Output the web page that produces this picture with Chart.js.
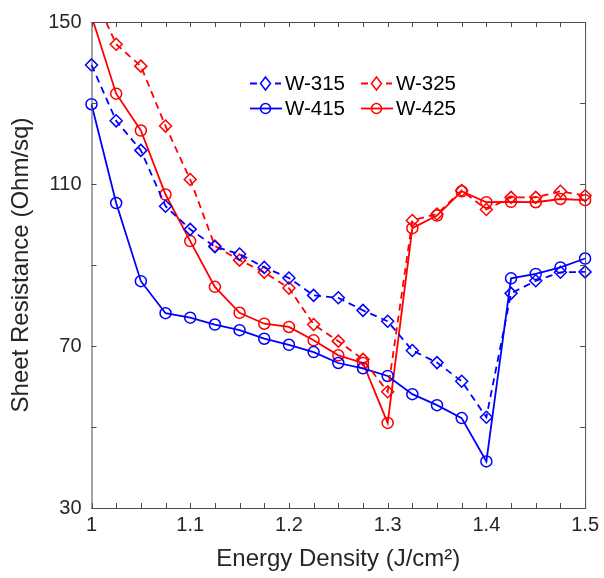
<!DOCTYPE html>
<html>
<head>
<meta charset="utf-8">
<script src="https://cdn.jsdelivr.net/npm/chart.js@4"></script>
<style>
html,body{margin:0;padding:0;background:#fff;}
#wrap{width:604px;height:578px;}
</style>
</head>
<body>
<div id="wrap"><canvas id="c" width="604" height="578"></canvas></div>
<script>
const energy = [1.000,1.025,1.050,1.075,1.100,1.125,1.150,1.175,1.200,1.225,1.250,1.275,1.300,1.325,1.350,1.375,1.400,1.425,1.450,1.475,1.500];
const w315 = [139.4,125.6,118.3,104.5,98.8,94.5,92.7,89.4,86.8,82.5,81.9,78.8,76.1,68.9,65.9,61.3,52.4,83.0,86.1,88.2,88.3];
const w415 = [129.7,105.3,86.0,78.1,77.0,75.3,73.9,71.8,70.3,68.5,65.8,64.5,62.6,58.1,55.4,52.2,41.5,86.7,87.8,89.4,91.6];
const w325 = [158.0,144.5,139.1,124.3,111.1,94.7,91.2,88.2,84.3,75.3,71.2,66.7,58.7,101.0,102.6,108.4,103.7,106.7,106.7,108.2,107.1];
const w425 = [151.5,132.3,123.2,107.4,95.9,84.6,78.2,75.5,74.7,71.4,67.7,65.8,51.0,99.1,102.2,108.2,105.5,105.6,105.5,106.3,106.0];
const seriesNames = ['W-315','W-325','W-415','W-425'];
const xTicks = [1,1.1,1.2,1.3,1.4,1.5];
const yTicks = [30,70,110,150];
const xMinorStep = 0.025;
const yMinorStep = 20;

const BLUE = '#0000ff', RED = '#ff0000';
const FONT = "'Liberation Sans', Arial, sans-serif";
const pts = arr => arr.map((v,i)=>({x: energy[i], y: v}));
const clipBox = {left: 12, top: 0, right: 12, bottom: 12};

function ds(label, data, color, dashed, style){
  return {
    label, data: pts(data),
    borderColor: color, backgroundColor: 'rgba(0,0,0,0)',
    borderWidth: 1.8,
    borderDash: dashed ? [7,5] : [],
    pointStyle: style,
    pointRadius: style === 'rectRot' ? 6 : 5.5,
    pointBorderWidth: 1.5,
    pointBorderColor: color,
    pointBackgroundColor: 'rgba(0,0,0,0)',
    tension: 0, clip: clipBox
  };
}

const boxPlugin = {
  id: 'boxPlugin',
  afterDatasetsDraw(chart){
    const {ctx, chartArea:a, scales:{x, y}} = chart;
    ctx.save();
    ctx.strokeStyle = '#4d4d4d';
    ctx.lineWidth = 1;
    ctx.setLineDash([]);
    ctx.strokeRect(a.left+0.5, a.top+0.5, a.right-a.left, a.bottom-a.top);
    const L = 5;
    ctx.beginPath();
    for (let v = 1; v <= 1.5001; v += xMinorStep){
      const px = Math.round(x.getPixelForValue(v))+0.5;
      ctx.moveTo(px, a.bottom); ctx.lineTo(px, a.bottom-L);
      ctx.moveTo(px, a.top); ctx.lineTo(px, a.top+L);
    }
    for (let v = 30; v <= 150.001; v += yMinorStep){
      const py = Math.round(y.getPixelForValue(v))+0.5;
      ctx.moveTo(a.left, py); ctx.lineTo(a.left+L, py);
      ctx.moveTo(a.right, py); ctx.lineTo(a.right-L, py);
    }
    ctx.stroke();

    // legend
    const rows = [
      {y: 83.5, items: [{name: seriesNames[0], color: BLUE, dashed: true, style: 'd', x: 250},
                      {name: seriesNames[1], color: RED, dashed: true, style: 'd', x: 361}]},
      {y: 108.5, items: [{name: seriesNames[2], color: BLUE, dashed: false, style: 'c', x: 250},
                       {name: seriesNames[3], color: RED, dashed: false, style: 'c', x: 361}]}
    ];
    ctx.font = "20.5px " + FONT;
    ctx.textBaseline = 'middle';
    ctx.textAlign = 'left';
    rows.forEach(r => {
      r.items.forEach(it => {
        ctx.strokeStyle = it.color;
        ctx.lineWidth = 1.8;
        ctx.beginPath();
        if (it.dashed){
          ctx.moveTo(it.x, r.y); ctx.lineTo(it.x+7, r.y);
          ctx.moveTo(it.x+25, r.y); ctx.lineTo(it.x+31, r.y);
        } else {
          ctx.moveTo(it.x, r.y); ctx.lineTo(it.x+32, r.y);
        }
        ctx.stroke();
        ctx.lineWidth = 1.5;
        ctx.beginPath();
        const cx = it.x+15.5;
        if (it.style === 'd'){
          ctx.moveTo(cx, r.y-6.5); ctx.lineTo(cx+5, r.y); ctx.lineTo(cx, r.y+6.5); ctx.lineTo(cx-5, r.y); ctx.closePath();
        } else {
          ctx.arc(cx, r.y, 5, 0, Math.PI*2);
        }
        ctx.stroke();
        ctx.fillStyle = '#000';
        ctx.fillText(it.name, it.x+35, r.y+1);
      });
    });
    ctx.restore();
  }
};

new Chart(document.getElementById('c'), {
  type: 'line',
  data: {
    datasets: [
      ds(seriesNames[0], w315, BLUE, true, 'rectRot'),
      ds(seriesNames[1], w325, RED, true, 'rectRot'),
      ds(seriesNames[2], w415, BLUE, false, 'circle'),
      ds(seriesNames[3], w425, RED, false, 'circle')
    ]
  },
  options: {
    responsive: false,
    animation: false,
    devicePixelRatio: 1,
    layout: {padding: {left: 0, top: 20, right: 15, bottom: 0}},
    plugins: {legend: {display: false}, tooltip: {enabled: false}},
    scales: {
      x: {
        type: 'linear', min: 1, max: 1.5,
        afterBuildTicks: s => { s.ticks = xTicks.map(v => ({value: v})); },
        afterFit: s => { s.height = 70; },
        grid: {display: false, drawTicks: false},
        border: {display: false},
        ticks: {
          padding: 5, color: '#262626', maxRotation: 0,
          font: {family: FONT, size: 20},
          callback: v => String(+Number(v).toFixed(2))
        },
        title: {display: true, text: 'Energy Density (J/cm²)', color: '#262626',
                font: {family: FONT, size: 24}, padding: {top: 0, bottom: 4}}
      },
      y: {
        type: 'linear', min: 30, max: 150,
        afterBuildTicks: s => { s.ticks = yTicks.map(v => ({value: v})); },
        afterFit: s => { s.width = 91.5; },
        grid: {display: false, drawTicks: false},
        border: {display: false},
        ticks: {padding: 10, color: '#262626', font: {family: FONT, size: 20}},
        title: {display: true, text: 'Sheet Resistance (Ohm/sq)', color: '#262626',
                font: {family: FONT, size: 24}, padding: {top: 7, bottom: 0}}
      }
    }
  },
  plugins: [boxPlugin]
});
</script>
</body>
</html>
